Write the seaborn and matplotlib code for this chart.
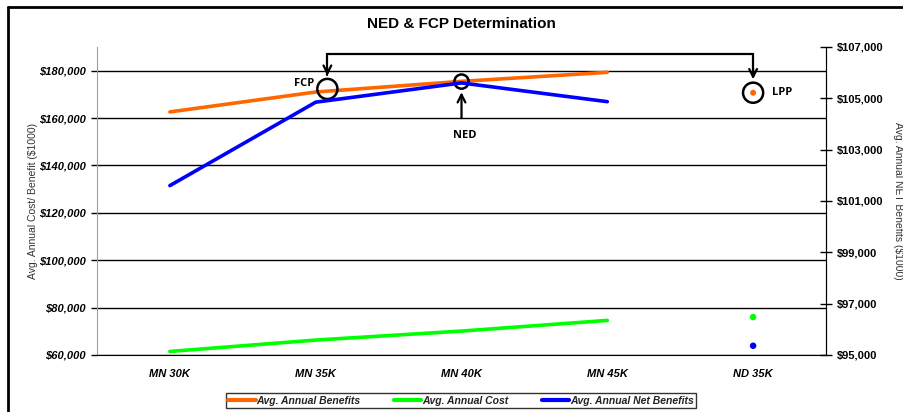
import matplotlib.pyplot as plt
import matplotlib.ticker as mticker
from matplotlib.lines import Line2D
import pandas as pd
import seaborn as sns

# Values ($1000)
categories = ["MN 30K", "MN 35K", "MN 40K", "MN 45K", "ND 35K"]
benefits = [162600, 171000, 175500, 179300, 170700]
costs = [61500, 66300, 70100, 74600, 76000]
net_benefits = [101600, 104850, 105600, 104870, 95360]

ORANGE = "#FF6600"
GREEN = "#00FF00"
BLUE = "#0000FF"

sns.set_style("white")
plt.rcParams["font.family"] = ["Liberation Sans", "DejaVu Sans"]
plt.rcParams["text.color"] = "black"
plt.rcParams["xtick.color"] = "black"
plt.rcParams["ytick.color"] = "black"

df = pd.DataFrame({
    "pos": range(len(categories)),
    "category": categories,
    "benefits": benefits,
    "costs": costs,
    "net": net_benefits,
})
lines_df = df.iloc[:4]
dots_df = df.iloc[4:]

fig = plt.figure(figsize=(9.04, 4.12), dpi=100)
ax = fig.add_axes([97 / 904, 1 - 355 / 412, (826 - 97) / 904, (355 - 47) / 412])
ax2 = ax.twinx()

# left axis: benefits and costs
sns.lineplot(data=lines_df, x="pos", y="benefits", color=ORANGE, lw=2.6, ax=ax, legend=False)
sns.lineplot(data=lines_df, x="pos", y="costs", color=GREEN, lw=2.6, ax=ax, legend=False)
sns.scatterplot(data=dots_df, x="pos", y="benefits", color=ORANGE, s=18, edgecolor="none", ax=ax, zorder=5)
sns.scatterplot(data=dots_df, x="pos", y="costs", color=GREEN, s=22, edgecolor="none", ax=ax, zorder=5)

# right axis: net benefits
sns.lineplot(data=lines_df, x="pos", y="net", color=BLUE, lw=2.6, ax=ax2, legend=False)
sns.scatterplot(data=dots_df, x="pos", y="net", color=BLUE, s=22, edgecolor="none", ax=ax2, zorder=5)

ax.set_xlim(-0.5, len(categories) - 0.5)
ax.set_ylim(60000, 190000)
ax.set_yticks(range(60000, 180001, 20000))
ax.yaxis.set_major_formatter(mticker.StrMethodFormatter("${x:,.0f}"))
ax.set_xticks(df["pos"])
ax.set_xticklabels(categories)
ax.grid(axis="y", color="black", lw=1)
ax.set_axisbelow(True)
ax.set_xlabel("")
ax.set_ylabel("Avg. Annual Cost/ Benefit ($1000)", fontsize=7.5, color="#333333", labelpad=1)

ax2.set_ylim(95000, 107000)
ax2.set_yticks(range(95000, 107001, 2000))
ax2.yaxis.set_major_formatter(mticker.StrMethodFormatter("${x:,.0f}"))
ax2.set_ylabel("Avg. Annual NET Benefits ($1000)", fontsize=7.5, color="#333333",
               rotation=270, labelpad=14)

for lab in ax.get_yticklabels() + ax.get_xticklabels():
    lab.set_fontweight("bold")
    lab.set_fontstyle("italic")
    lab.set_fontsize(8)
for lab in ax2.get_yticklabels():
    lab.set_fontweight("bold")
    lab.set_fontsize(8)

ax.tick_params(axis="x", length=0, pad=10)
ax.tick_params(axis="y", length=4, width=1, color="black", pad=4)
ax2.tick_params(axis="y", direction="inout", length=8, width=1, color="black", pad=4)

for a in (ax, ax2):
    a.spines["top"].set_visible(False)
ax.spines["left"].set_color("#a0a0a0")
ax.spines["bottom"].set_color("black")
ax2.spines["left"].set_visible(False)
ax2.spines["bottom"].set_visible(False)
ax2.spines["right"].set_color("black")

ax.set_title("NED & FCP Determination", fontsize=11, fontweight="bold", color="black", pad=14)

# annotation circles and arrows (in left-axis data coordinates)
ring = dict(facecolors="none", edgecolors="black", linewidths=1.8, zorder=6)
ax.scatter([1.08], [172300], s=210, **ring)
ax.scatter([2.0], [175400], s=105, **ring)
ax.scatter([4.0], [benefits[4]], s=210, **ring)

bracket_y = 187000
ax.plot([1.08, 1.08, 4.0, 4.0], [178000, bracket_y, bracket_y, 178000],
        color="black", lw=1.6, solid_joinstyle="miter", zorder=6)
arrow = dict(arrowstyle="->", color="black", lw=1.6, mutation_scale=14)
ax.annotate("", xy=(1.08, 176700), xytext=(1.08, 182000), arrowprops=arrow, zorder=6)
ax.annotate("", xy=(4.0, 175200), xytext=(4.0, 182000), arrowprops=arrow, zorder=6)
ax.annotate("", xy=(2.0, 172100), xytext=(2.0, 158800), arrowprops=arrow, zorder=6)

lab_kw = dict(fontsize=8, fontweight="bold", family=["Open Sans", "DejaVu Sans"])
ax.text(0.99, 174600, "FCP", ha="right", va="center", **lab_kw)
ax.text(2.02, 152800, "NED", ha="center", va="center", **lab_kw)
ax.text(4.13, 170600, "LPP", ha="left", va="center", **lab_kw)

# legend
handles = [
    Line2D([], [], color=ORANGE, lw=3, label="Avg. Annual Benefits"),
    Line2D([], [], color=GREEN, lw=3, label="Avg. Annual Cost"),
    Line2D([], [], color=BLUE, lw=3, label="Avg. Annual Net Benefits"),
]
leg = fig.legend(handles=handles, loc="center", bbox_to_anchor=(0.51, 0.027), ncol=3,
                 frameon=True, fancybox=False, edgecolor="black", handlelength=2.6,
                 handletextpad=0.1, columnspacing=3.2, borderpad=0.25, borderaxespad=0,
                 prop=dict(size=7.5, weight="bold", style="italic"))
leg.get_frame().set_linewidth(1)
for t in leg.get_texts():
    t.set_color("#222222")

# outer chart border
fig.add_artist(Line2D([8 / 904, 8 / 904], [0, 1 - 7 / 412], color="black", lw=2,
                      transform=fig.transFigure))
fig.add_artist(Line2D([8 / 904, 1], [1 - 7 / 412, 1 - 7 / 412], color="black", lw=2,
                      transform=fig.transFigure))

fig.savefig("out.png", dpi=100)
